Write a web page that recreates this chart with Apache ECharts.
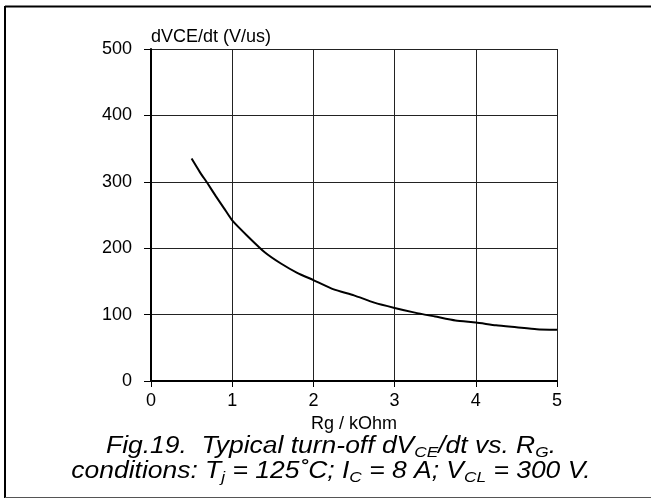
<!DOCTYPE html>
<html>
<head>
<meta charset="utf-8">
<script src="https://cdn.jsdelivr.net/npm/echarts@6/dist/echarts.min.js"></script>
<style>
html,body{margin:0;padding:0;background:#fff;}
#chart{width:651px;height:500px;}
</style>
</head>
<body>
<div id="chart"></div>
<script>
const rgValues = [0.5, 0.6, 0.7, 0.8, 0.9, 1.0, 1.2, 1.4, 1.6, 1.8, 2.0, 2.25, 2.5, 2.75, 3.0, 3.25, 3.5, 3.75, 4.0, 4.25, 4.5, 4.75, 5.0];
const dvdtValues = [335, 315, 297, 278, 260, 242, 217, 194, 177, 163, 152, 138, 129, 118, 110, 103, 97, 91, 88, 84, 81, 78, 77];
const xTicks = [0, 1, 2, 3, 4, 5];
const yTicks = [0, 100, 200, 300, 400, 500];
const xName = 'Rg / kOhm';
const yName = 'dVCE/dt (V/us)';
const captionLine1 = '{m|Fig.19.  Typical turn-off dV}{s|CE}{m|/dt vs. R}{s|G}{m|.}';
const captionLine2 = '{m|conditions: T}{s|j}{m| = 125˚C; I}{s|C}{m| = 8 A; V}{s|CL}{m| = 300 V.}';

const FONT = '"Liberation Sans", Arial, sans-serif';
const chart = echarts.init(document.getElementById('chart'));
const capRich = {
  m: {fontSize: 23, fontStyle: 'italic', fontFamily: FONT, color: '#000', lineHeight: 30},
  s: {fontSize: 15, fontStyle: 'italic', fontFamily: FONT, color: '#000', lineHeight: 30, padding: [11, 0, 0, 0]}
};
chart.setOption({
  animation: false,
  backgroundColor: '#fff',
  grid: {left: 151, right: 94, top: 49, bottom: 119},
  xAxis: {
    type: 'value', min: xTicks[0], max: xTicks[xTicks.length - 1], interval: 1,
    name: xName, nameLocation: 'middle', nameGap: 21,
    nameTextStyle: {fontSize: 18, fontFamily: FONT, color: '#000', verticalAlign: 'top'},
    axisLine: {show: true, lineStyle: {color: '#000', width: 2}},
    axisTick: {show: true, length: 6, lineStyle: {color: '#000', width: 1}},
    axisLabel: {fontSize: 18, fontFamily: FONT, color: '#000', margin: 11},
    splitLine: {show: true, lineStyle: {color: '#222', width: 1}}
  },
  yAxis: {
    type: 'value', min: yTicks[0], max: yTicks[yTicks.length - 1], interval: 100,
    name: yName, nameLocation: 'end', nameGap: 3,
    nameTextStyle: {fontSize: 18, fontFamily: FONT, color: '#000', align: 'left', verticalAlign: 'bottom'},
    axisLine: {show: true, lineStyle: {color: '#000', width: 2}},
    axisTick: {show: true, length: 7, lineStyle: {color: '#000', width: 1}},
    axisLabel: {fontSize: 18, fontFamily: FONT, color: '#000', margin: 19},
    splitLine: {show: true, lineStyle: {color: '#222', width: 1}}
  },
  series: [{
    type: 'line',
    data: rgValues.map((x, i) => [x, dvdtValues[i]]),
    showSymbol: false,
    smooth: 0.2,
    lineStyle: {color: '#000', width: 2},
    z: 5
  }],
  graphic: [
    {type: 'line', shape: {x1: 5, y1: 6.5, x2: 651, y2: 6.5}, style: {stroke: '#000', lineWidth: 2}},
    {type: 'line', shape: {x1: 5, y1: 6, x2: 5, y2: 498}, style: {stroke: '#000', lineWidth: 2}},
    {type: 'line', shape: {x1: 5, y1: 497.5, x2: 651, y2: 497.5}, style: {stroke: '#555', lineWidth: 1}},
    {
      type: 'text', x: 331, y: 432, scaleX: 1.15,
      style: {text: captionLine1, align: 'center', verticalAlign: 'top', rich: capRich}
    },
    {
      type: 'text', x: 331, y: 457, scaleX: 1.15,
      style: {text: captionLine2, align: 'center', verticalAlign: 'top', rich: capRich}
    }
  ]
});
</script>
</body>
</html>
